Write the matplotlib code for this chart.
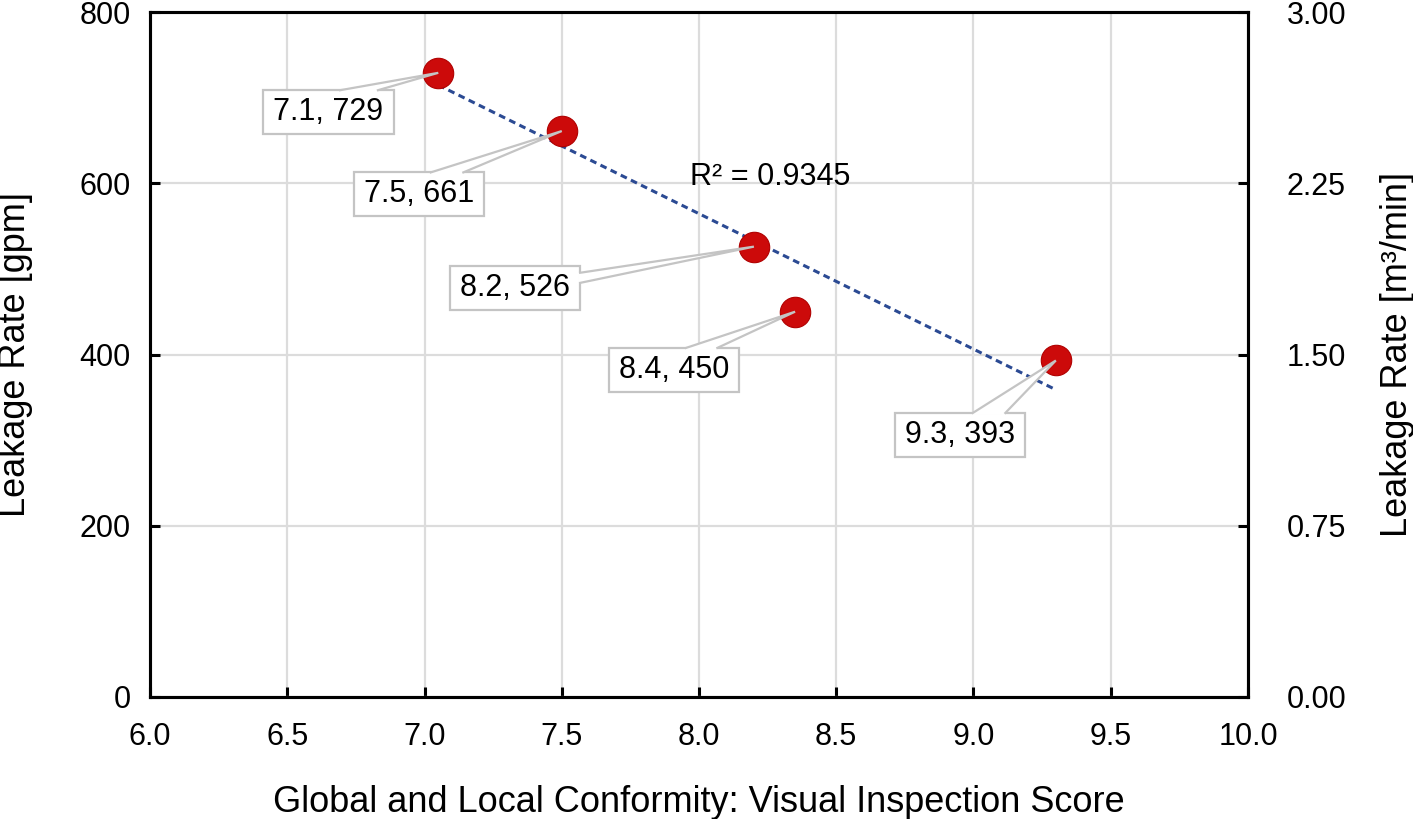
import numpy as np
import matplotlib
matplotlib.use("Agg")
import matplotlib.pyplot as plt
from matplotlib.patches import Polygon, Rectangle

plt.rcParams['font.family'] = ['Liberation Sans', 'DejaVu Sans']

# data
score = [7.05, 7.50, 8.20, 8.35, 9.30]
leak_gpm = [729, 661, 526, 450, 393]
labels = ["7.1, 729", "7.5, 661", "8.2, 526", "8.4, 450", "9.3, 393"]
# callout box centres (data coords) and which side the wedge leaves from
label_pos = [(6.65, 683), (6.98, 587), (7.33, 478), (7.91, 382), (8.95, 306)]
wedge_side = [("top", 0.59, 0.88), ("top", 0.59, 0.84), ("right", 0.16, 0.39),
              ("top", 0.59, 0.83), ("top", 0.60, 0.85)]
r2_text = "R² = 0.9345"

GREY = '#c4c4c4'

fig = plt.figure(figsize=(14.13, 8.19), dpi=100)
ax = fig.add_axes([0.1062, 0.149, 0.777, 0.8363])

ax.set_xlim(6.0, 10.0)
ax.set_ylim(0, 800)
ax.set_xticks(np.arange(6.0, 10.01, 0.5))
ax.set_yticks(np.arange(0, 801, 200))
ax.set_xticklabels([f"{v:.1f}" for v in np.arange(6.0, 10.01, 0.5)])
ax.grid(True, color='#dcdcdc', linewidth=1.6, zorder=0)
ax.set_axisbelow(True)
for s in ax.spines.values():
    s.set_linewidth(2.2)
ax.tick_params(direction='in', length=7, width=2.2, labelsize=22)
ax.tick_params(axis='x', pad=18)
ax.tick_params(axis='y', pad=14)

# linear trendline
k, b = np.polyfit(score, leak_gpm, 1)
xs = np.array([min(score), max(score)])
ax.plot(xs, k * xs + b, linestyle=(0, (2.2, 1.5)), color='#2b4a93',
        linewidth=2.2, zorder=3)

ax.scatter(score, leak_gpm, s=480, color='#cc0a0a', edgecolors='#b00000',
           linewidths=0.8, zorder=4)

texts = []
for (tx, ty), txt in zip(label_pos, labels):
    texts.append(ax.text(tx, ty, txt, fontsize=22, ha='center', va='center', zorder=8))

ax.text(8.26, 607, r2_text, fontsize=22, ha='center', va='center', zorder=5)

ax.set_xlabel("Global and Local Conformity: Visual Inspection Score", fontsize=26)
ax.xaxis.set_label_coords(0.5, -0.128)
ax.set_ylabel("Leakage Rate [gpm]", fontsize=26)
ax.yaxis.set_label_coords(-0.107, 0.5)

ax2 = ax.twinx()
ax2.set_ylim(0, 3.0)
ax2.set_yticks(np.arange(0, 3.01, 0.75))
ax2.set_yticklabels([f"{v:.2f}" for v in np.arange(0, 3.01, 0.75)])
ax2.tick_params(direction='in', length=7, width=2.2, labelsize=22, pad=28)
for s in ax2.spines.values():
    s.set_linewidth(2.2)
ax2.set_ylabel("Leakage Rate [m³/min]", fontsize=26)
ax2.yaxis.set_label_coords(1.12, 0.5)

# callout boxes + wedges, built from the rendered text extents
fig.canvas.draw()
renderer = fig.canvas.get_renderer()
inv = ax.transData.inverted()
padx, pady = 10, 7
for t, (px, py), (side, f0, f1) in zip(texts, zip(score, leak_gpm), wedge_side):
    bb = t.get_window_extent(renderer)
    x0, x1 = bb.x0 - padx, bb.x1 + padx
    y0, y1 = bb.y0 - pady, bb.y1 + pady
    (dx0, dy0), (dx1, dy1) = inv.transform([(x0, y0), (x1, y1)])
    ax.add_patch(Rectangle((dx0, dy0), dx1 - dx0, dy1 - dy0, fc='white',
                           ec=GREY, lw=1.6, zorder=6))
    if side == "top":
        a = (x0 + f0 * (x1 - x0), y1)
        c = (x0 + f1 * (x1 - x0), y1)
        a_in, c_in = (a[0], y1 - 2), (c[0], y1 - 2)
    else:
        a = (x1, y1 - f0 * (y1 - y0))
        c = (x1, y1 - f1 * (y1 - y0))
        a_in, c_in = (x1 - 2, a[1]), (x1 - 2, c[1])
    a_d, c_d, ai_d, ci_d = inv.transform([a, c, a_in, c_in])
    ax.add_patch(Polygon([ai_d, a_d, (px, py), c_d, ci_d], closed=True,
                         fc='white', ec='none', zorder=7))
    ax.plot([a_d[0], px, c_d[0]], [a_d[1], py, c_d[1]], color=GREY,
            lw=1.6, zorder=7, solid_joinstyle='miter')

fig.savefig("out.png", dpi=100)
